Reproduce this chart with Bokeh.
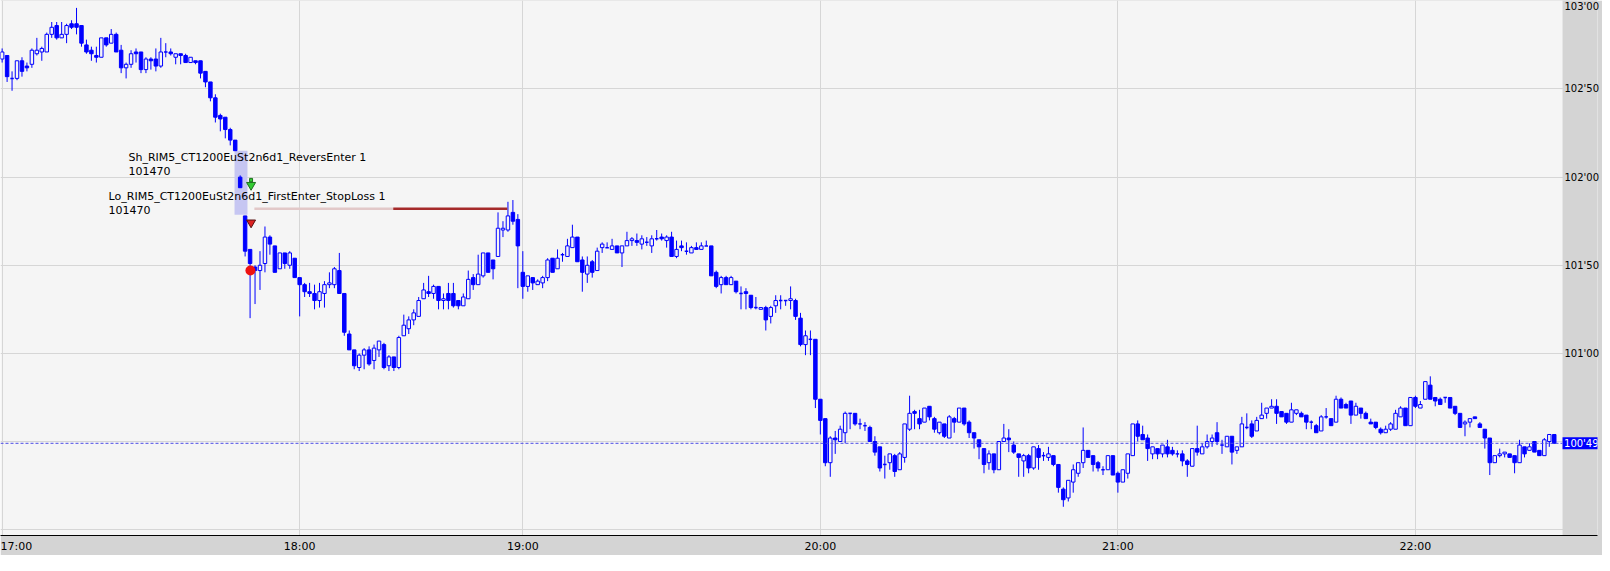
from bokeh.plotting import figure
from bokeh.models import ColumnDataSource, FixedTicker, CustomJSTickFormatter, Range1d
from bokeh.core.properties import value
from bokeh.embed import file_html
from bokeh.resources import INLINE

# ---------------- data (1-minute bars, RIM5) ----------------
opens = [
 102670,102690,102560,102560,102660,102630,102640,102700,102710,102710,
 102810,102860,102790,102810,102870,102870,102860,102750,102720,102690,
 102680,102790,102760,102810,102720,102620,102640,102710,102710,102610,
 102670,102670,102630,102710,102710,102680,102700,102690,102650,102660,
 102660,102600,102540,102450,102350,102340,102270,102210,102000,101780,
 101590,101490,101470,101510,101660,101610,101480,101570,101500,101540,
 101430,101390,101350,101340,101300,101340,101390,101390,101470,101340,
 101110,101020,100920,100990,101020,100960,101020,101050,100930,100980,
 100920,101100,101140,101190,101210,101310,101350,101340,101380,101300,
 101340,101340,101300,101270,101310,101430,101390,101440,101570,101530,
 101550,101700,101700,101800,101760,101460,101380,101430,101390,101400,
 101430,101540,101480,101560,101550,101600,101660,101530,101450,101520,
 101470,101600,101600,101590,101610,101570,101610,101640,101640,101620,
 101630,101610,101650,101660,101640,101660,101550,101610,101580,101570,
 101600,101590,101610,101610,101460,101390,101430,101390,101410,101340,
 101350,101330,101260,101250,101260,101210,101270,101300,101300,101300,
 101300,101200,101050,101080,101080,100740,100630,100380,100520,100500,
 100550,100660,100660,100600,100590,100580,100500,100470,100370,100380,
 100420,100340,100410,100570,100670,100630,100610,100700,100630,100550,
 100600,100520,100630,100610,100690,100610,100550,100510,100460,100380,
 100430,100340,100500,100520,100480,100430,100390,100420,100350,100460,
 100420,100410,100420,100370,100230,100180,100270,100320,100380,100450,
 100420,100380,100340,100340,100420,100320,100270,100320,100420,100600,
 100540,100520,100430,100460,100430,100470,100450,100430,100430,100390,
 100360,100460,100430,100470,100500,100550,100480,100470,100530,100450,
 100470,100580,100600,100560,100630,100660,100690,100700,100670,100660,
 100610,100660,100660,100650,100610,100590,100560,100640,100630,100610,
 100740,100710,100730,100650,100690,100660,100610,100610,100570,100550,
 100570,100570,100640,100690,100590,100750,100690,100740,100820,100750,
 100740,100750,100750,100700,100660,100600,100610,100640,100600,100570,
 100520,100380,100420,100430,100430,100420,100380,100470,100450,100500,
 100450,100420,100500,100540]

highs = [
 102730,102690,102600,102660,102680,102650,102730,102790,102740,102820,
 102880,102880,102880,102870,102890,102960,102860,102780,102740,102740,
 102790,102790,102840,102820,102750,102650,102720,102730,102710,102680,
 102680,102730,102790,102760,102730,102700,102700,102700,102680,102660,
 102660,102600,102540,102470,102360,102340,102280,102210,102010,101780,
 101590,101500,101580,101720,101670,101610,101570,101570,101580,101540,
 101430,101400,101400,101390,101400,101410,101460,101490,101570,101340,
 101130,101020,101000,101030,101040,101050,101070,101060,100990,100980,
 101100,101220,101210,101250,101320,101400,101440,101390,101380,101340,
 101400,101400,101300,101340,101470,101450,101560,101570,101570,101530,
 101800,101750,101860,101870,101790,101580,101440,101430,101420,101440,
 101540,101540,101590,101570,101650,101730,101660,101550,101550,101530,
 101600,101630,101630,101650,101610,101610,101690,101660,101680,101670,
 101660,101670,101700,101680,101670,101690,101640,101640,101630,101610,
 101630,101630,101640,101610,101470,101440,101440,101440,101410,101380,
 101370,101330,101320,101260,101270,101270,101330,101330,101300,101380,
 101310,101230,101130,101130,101080,100740,100630,100530,100560,100590,
 100670,100660,100660,100630,100610,100590,100530,100470,100420,100430,
 100430,100440,100600,100760,100680,100680,100690,100700,100640,100610,
 100600,100650,100640,100690,100690,100620,100550,100510,100460,100450,
 100430,100500,100600,100570,100500,100430,100430,100430,100470,100480,
 100440,100470,100420,100370,100240,100280,100370,100380,100580,100450,
 100420,100390,100360,100420,100420,100330,100340,100430,100600,100620,
 100590,100540,100470,100460,100480,100510,100470,100450,100450,100400,
 100460,100590,100490,100540,100540,100610,100510,100530,100530,100470,
 100640,100660,100620,100640,100720,100690,100740,100740,100670,100660,
 100720,100680,100670,100650,100620,100600,100650,100690,100630,100760,
 100750,100720,100730,100720,100690,100670,100630,100610,100580,100590,
 100610,100680,100700,100690,100750,100760,100730,100840,100870,100750,
 100750,100750,100750,100700,100660,100620,100630,100640,100610,100570,
 100520,100420,100460,100440,100430,100420,100510,100470,100490,100500,
 100450,100520,100540,100540]

lows = [
 102650,102540,102490,102550,102570,102600,102620,102690,102660,102710,
 102790,102780,102790,102760,102840,102810,102740,102700,102660,102650,
 102680,102740,102760,102710,102590,102560,102620,102650,102590,102590,
 102610,102600,102620,102680,102690,102640,102640,102650,102650,102640,
 102560,102510,102430,102310,102260,102220,102180,102150,101940,101550,
 101200,101280,101360,101460,101560,101460,101480,101480,101480,101430,
 101210,101320,101320,101250,101260,101260,101370,101370,101340,101100,
 101020,100910,100900,100910,100930,100910,100980,100910,100900,100900,
 100910,101100,101110,101160,101210,101310,101320,101310,101250,101250,
 101250,101260,101250,101270,101310,101360,101390,101430,101460,101420,
 101550,101660,101690,101730,101370,101310,101350,101360,101390,101370,
 101410,101460,101480,101520,101550,101600,101520,101350,101400,101430,
 101470,101570,101600,101590,101570,101490,101610,101610,101610,101590,
 101610,101570,101640,101640,101600,101550,101540,101580,101560,101570,
 101590,101590,101610,101440,101370,101340,101390,101390,101340,101250,
 101250,101250,101250,101250,101130,101170,101230,101250,101270,101250,
 101190,101040,100990,100990,100690,100540,100360,100300,100430,100500,
 100490,100570,100590,100570,100560,100500,100420,100330,100290,100340,
 100300,100340,100380,100560,100570,100570,100610,100620,100550,100540,
 100520,100520,100550,100610,100590,100520,100460,100400,100320,100340,
 100320,100340,100500,100440,100430,100300,100300,100320,100340,100340,
 100390,100390,100360,100210,100130,100160,100210,100300,100350,100410,
 100330,100330,100310,100340,100310,100210,100270,100290,100420,100500,
 100510,100390,100400,100400,100410,100410,100420,100410,100360,100300,
 100360,100420,100430,100460,100470,100480,100430,100470,100370,100430,
 100470,100570,100520,100560,100630,100630,100690,100600,100640,100600,
 100610,100650,100640,100570,100570,100550,100560,100630,100590,100610,
 100690,100690,100600,100650,100630,100630,100600,100570,100540,100550,
 100560,100570,100640,100590,100590,100690,100690,100740,100740,100700,
 100710,100720,100690,100650,100580,100530,100580,100630,100580,100460,
 100310,100380,100410,100410,100410,100320,100380,100410,100450,100440,
 100420,100420,100470,100490]

closes = [
 102710,102570,102560,102660,102600,102620,102720,102720,102730,102810,
 102850,102790,102810,102860,102850,102850,102760,102710,102700,102680,
 102790,102750,102810,102710,102620,102640,102700,102700,102610,102670,
 102660,102630,102710,102710,102700,102700,102690,102650,102680,102650,
 102590,102540,102450,102340,102330,102270,102210,102150,101940,101580,
 101510,101470,101500,101660,101620,101460,101570,101510,101570,101430,
 101390,101350,101340,101300,101350,101390,101400,101480,101340,101120,
 101020,100930,100990,101020,100940,101030,101070,100920,100980,100920,
 101090,101160,101190,101230,101300,101360,101340,101380,101300,101310,
 101300,101270,101270,101320,101420,101390,101450,101570,101460,101480,
 101710,101710,101780,101750,101610,101380,101440,101400,101410,101430,
 101530,101460,101540,101560,101610,101660,101520,101460,101500,101460,
 101580,101620,101600,101610,101570,101610,101640,101650,101630,101650,
 101630,101650,101650,101650,101660,101550,101590,101600,101580,101600,
 101590,101610,101610,101440,101380,101430,101390,101430,101350,101340,
 101340,101260,101260,101260,101190,101260,101300,101300,101300,101310,
 101210,101050,101100,101080,100740,100620,100380,100520,100510,100570,
 100660,100660,100600,100600,100590,100500,100440,100350,100370,100430,
 100330,100430,100600,100660,100660,100600,100690,100640,100570,100610,
 100530,100640,100610,100690,100600,100550,100520,100470,100370,100430,
 100340,100500,100520,100510,100440,100410,100420,100350,100470,100410,
 100420,100430,100370,100240,100170,100280,100340,100380,100450,100410,
 100370,100350,100340,100420,100310,100270,100340,100430,100600,100530,
 100510,100460,100470,100430,100480,100430,100430,100430,100390,100370,
 100460,100440,100470,100500,100520,100500,100480,100530,100440,100470,
 100600,100580,100530,100620,100650,100690,100700,100660,100640,100610,
 100680,100680,100640,100610,100610,100550,100640,100640,100590,100740,
 100690,100690,100650,100700,100660,100630,100600,100580,100550,100570,
 100600,100660,100690,100590,100750,100700,100710,100840,100740,100730,
 100710,100750,100690,100660,100580,100610,100630,100630,100580,100520,
 100380,100420,100430,100440,100410,100380,100480,100430,100470,100440,
 100420,100510,100540,100490]

# time axis: bar index of each hour mark (evening clearing break 18:45-19:00)
hour_bar_index = [0, 60, 105, 165, 225, 285]
hour_labels = ["17:00", "18:00", "19:00", "20:00", "21:00", "22:00"]

price_ticks = [100000, 100500, 101000, 101500, 102000, 102500, 103000]
last_price = 100490
last_price_label = "100'49"
entry_price = 101470
stop_price = 101820

# ---------------- layout constants ----------------
BLUE = "#0000ff"
BG = "#f5f5f5"
PANEL = "#d4d4d4"
X0, XBARS, XEND = -0.33, 314.67, 321.72     # bar area ends at XBARS, price panel to XEND
Y0, Y1 = 99967, 103002

p = figure(width=1602, height=555, output_backend="svg", toolbar_location=None,
           x_range=Range1d(X0, XEND), y_range=Range1d(Y0, Y1),
           y_axis_location="right", min_border_left=0, min_border_top=0,
           min_border_right=0, min_border_bottom=0)
p.background_fill_color = BG
p.border_fill_color = PANEL
p.outline_line_color = None

# axes
p.yaxis.ticker = FixedTicker(ticks=price_ticks)
p.yaxis.formatter = CustomJSTickFormatter(code="""
    if (tick < 100900) return '';
    const s = Math.floor(tick/1000) + "'" + String(Math.round(tick % 1000)).padStart(3, '0');
    return s.slice(0, 6);
""")
p.yaxis.axis_line_color = None
p.yaxis.major_tick_line_color = None
p.yaxis.minor_tick_line_color = None
p.yaxis.major_tick_out = 0
p.yaxis.major_tick_in = 0
p.yaxis.major_label_standoff = -33
p.yaxis.major_label_text_font = "DejaVu Sans"
p.yaxis.major_label_text_font_size = "10px"
p.yaxis.major_label_text_color = "#000000"

p.xaxis.ticker = FixedTicker(ticks=hour_bar_index)
p.xaxis.major_label_overrides = {i: t for i, t in zip(hour_bar_index, hour_labels)}
p.xaxis.axis_line_color = "#000000"
p.xaxis.axis_line_width = 1
p.xaxis.major_tick_line_color = None
p.xaxis.minor_tick_line_color = None
p.xaxis.major_tick_out = 0
p.xaxis.major_tick_in = 0
p.xaxis.major_label_text_align = "left"
p.xaxis.major_label_standoff = 4
p.xaxis.major_label_text_font = "DejaVu Sans"
p.xaxis.major_label_text_font_size = "11px"
p.xaxis.major_label_text_color = "#000000"

p.xgrid.ticker = FixedTicker(ticks=hour_bar_index)
p.xgrid.grid_line_color = "#d6d6d6"
p.ygrid.grid_line_color = "#d6d6d6"

# highlighted trade bar (behind candles)
p.quad(left=[46.87], right=[49.47], top=[102150], bottom=[101787],
       fill_color="#c6c6f2", line_color=None)

# candles
n = len(opens)
idx = list(range(n))
tops = [max(o, c) for o, c in zip(opens, closes)]
bots = [min(o, c) for o, c in zip(opens, closes)]
src = ColumnDataSource(dict(x=idx, h=highs, l=lows))
p.segment(x0="x", y0="l", x1="x", y1="h", source=src, line_color=BLUE, line_width=1)

body = [i for i in idx if tops[i] != bots[i]]
doji = [i for i in idx if tops[i] == bots[i]]
bsrc = ColumnDataSource(dict(x=body, t=[tops[i] for i in body], b=[bots[i] for i in body],
                             fill=[BG if closes[i] > opens[i] else BLUE for i in body]))
p.vbar(x="x", top="t", bottom="b", width=0.7, source=bsrc,
       fill_color="fill", line_color=BLUE, line_width=1)
p.segment(x0=[i - 0.35 for i in doji], y0=[closes[i] for i in doji],
          x1=[i + 0.35 for i in doji], y1=[closes[i] for i in doji],
          line_color=BLUE, line_width=1.5)

# last price dashed line across the bar area
p.segment(x0=[X0], y0=[last_price], x1=[XBARS], y1=[last_price],
          line_color="#4a4ae6", line_dash="3 2", line_width=1)

# stop-loss line
p.segment(x0=[50.87], y0=[stop_price], x1=[78.87], y1=[stop_price],
          line_color="#e2c8c8", line_width=2.5)
p.segment(x0=[78.87], y0=[stop_price], x1=[101.87], y1=[stop_price],
          line_color="#a52a2a", line_width=2.5)

# trade markers
p.rect(x=[50.2], y=[101983], width=0.6, height=20, fill_color="#33cc33",
       line_color="#1f6f1f", line_width=1)
p.scatter(x=[50.2], y=[101955], marker="inverted_triangle", size=9,
          fill_color="#33cc33", line_color="#1f6f1f")
p.scatter(x=[50.2], y=[101742], marker="inverted_triangle", size=9,
          fill_color="#dd2222", line_color="#551111")
p.scatter(x=[50.07], y=[entry_price], marker="circle", size=10,
          fill_color="#ee1111", line_color=None)

# trade texts
p.text(x=[25.47, 25.47, 21.47, 21.47], y=[102112, 102033, 101888, 101815],
       text=["Sh_RIM5_CT1200EuSt2n6d1_ReversEnter 1", str(entry_price),
             "Lo_RIM5_CT1200EuSt2n6d1_FirstEnter_StopLoss 1", str(entry_price)],
       text_font=value("DejaVu Sans"), text_font_size="11px",
       text_baseline="middle", text_align="left", text_color="#000000")

# price scale panel (grey) on the right and the current price tag
p.quad(left=[XBARS], right=[XEND + 1], top=[Y1 + 100], bottom=[Y0 - 100],
       fill_color=PANEL, line_color=None)
p.quad(left=[XBARS], right=[XEND + 1], top=[last_price + 34], bottom=[last_price - 34],
       fill_color=BLUE, line_color=None)
p.text(x=[XBARS + 0.3], y=[last_price], text=[last_price_label],
       text_font=value("DejaVu Sans"), text_font_size="10px",
       text_baseline="middle", text_align="left", text_color="#ffffff")

open("out.html", "w").write(file_html(p, INLINE))
